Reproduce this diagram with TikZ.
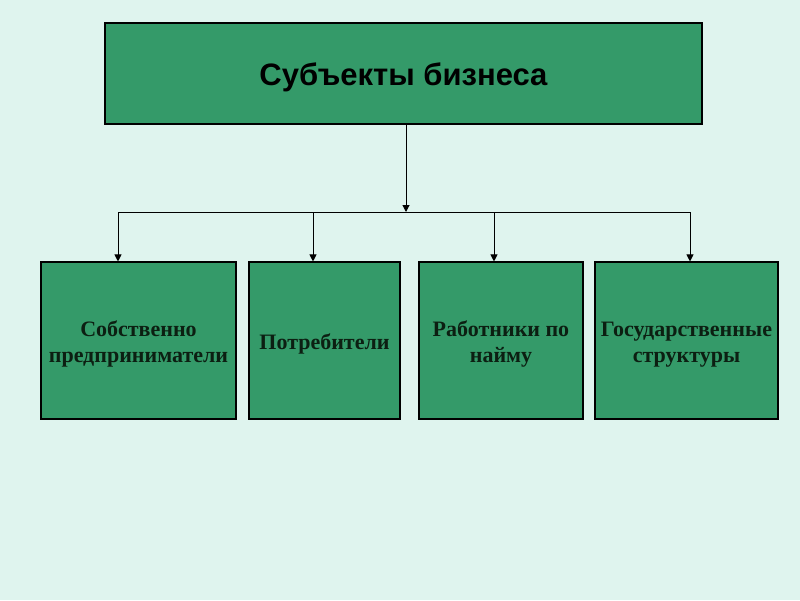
\documentclass[tikz,border=0pt]{standalone}
\usepackage{fontspec}
\setmainfont{Liberation Serif}
\newfontfamily\headfont{Liberation Sans}
\usetikzlibrary{arrows.meta}
\definecolor{bg}{HTML}{DFF4EE}
\definecolor{boxgreen}{HTML}{349A69}
\definecolor{txt}{HTML}{0C1F12}
\newcommand{\lowtext}[2]{\raisebox{-#1}[\height][\depth]{\begin{tabular}{@{}c@{}}#2\end{tabular}}}
\tikzset{
  box/.style={draw=black, line width=1.1pt, fill=boxgreen, inner sep=0pt, align=center, text=txt},
  conn/.style={draw=black, line width=1pt},
  arr/.style={conn, -{Triangle[width=7pt,length=7pt]}},
  lbl/.style={font=\bfseries\fontsize{22}{26}\selectfont}
}
\begin{document}
\begin{tikzpicture}[x=1pt,y=-1pt]
\fill[bg] (0,0) rectangle (800,600);
\useasboundingbox (0,0) rectangle (800,600);
\node[box, minimum width=597pt, minimum height=101pt, text=black, font=\headfont\bfseries\fontsize{31}{36}\selectfont] (top) at (403.5,73.5) {\lowtext{5pt}{Субъекты бизнеса}};
\node[box, lbl, minimum width=195pt, minimum height=157pt] (b1) at (138.5,340.5) {\lowtext{4pt}{Собственно\\предприниматели}};
\node[box, lbl, minimum width=151pt, minimum height=157pt] (b2) at (324.5,340.5) {\lowtext{4pt}{Потребители}};
\node[box, lbl, minimum width=164pt, minimum height=157pt] (b3) at (501,340.5) {\lowtext{4pt}{Работники по\\найму}};
\node[box, lbl, minimum width=183pt, minimum height=157pt] (b4) at (686.5,340.5) {\lowtext{4pt}{Государственные\\структуры}};
\coordinate (j) at (406,212);
\coordinate (l) at (118,212);
\coordinate (r) at (690,212);
\coordinate (m2) at (313,212);
\coordinate (m3) at (494,212);
\draw[arr] (top.south -| j) -- (j);
\draw[conn] (l) -- (r);
\draw[arr] (l) -- (b1.north -| l);
\draw[arr] (m2) -- (b2.north -| m2);
\draw[arr] (m3) -- (b3.north -| m3);
\draw[arr] (r) -- (b4.north -| r);
\end{tikzpicture}
\end{document}
